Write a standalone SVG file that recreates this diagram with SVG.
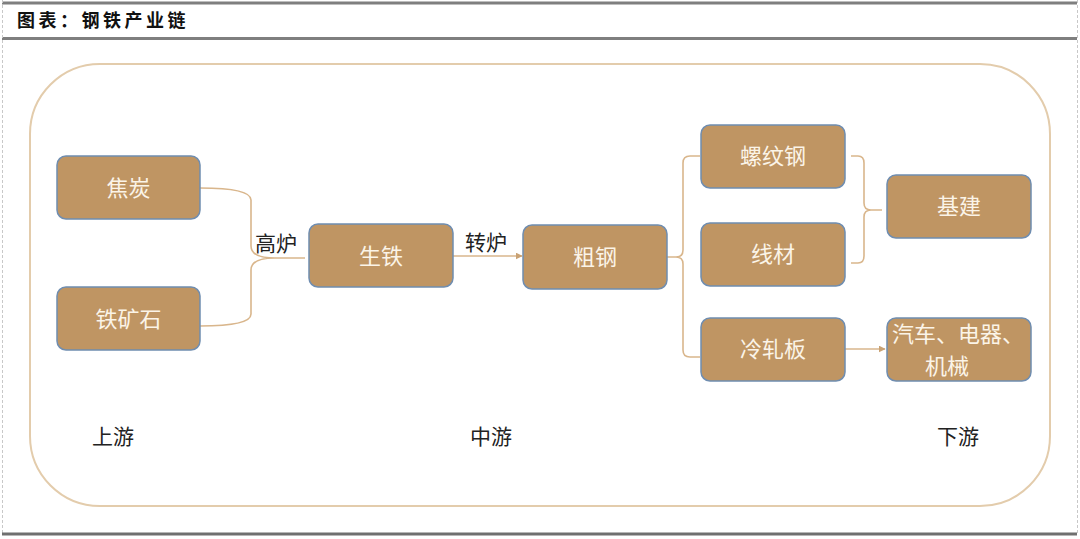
<svg xmlns="http://www.w3.org/2000/svg" width="1080" height="539" viewBox="0 0 1080 539">
<defs>
<style>
.hdr{stroke:#7f7f7f;stroke-width:3}
.vd{stroke:#c8c8c8;stroke-width:1;stroke-dasharray:3,2}
.node rect{fill:#BF9563;stroke:#6F8DB0;stroke-width:1.5}
.nt{font-family:"Noto Sans CJK SC","Noto Sans",sans-serif;font-size:22px;fill:#FBF4E8;text-anchor:middle;dominant-baseline:central}
.lbl{font-family:"Noto Sans CJK SC","Noto Sans",sans-serif;font-size:21px;fill:#222;text-anchor:middle;dominant-baseline:central}
.con{fill:none;stroke:#D9B68C;stroke-width:1.6}
</style>
<marker id="ah" viewBox="0 0 10 10" refX="9" refY="5" markerWidth="7" markerHeight="7" markerUnits="userSpaceOnUse" orient="auto">
<path d="M0,0 L10,5 L0,10 z" fill="#C9A274"/>
</marker>
</defs>
<rect width="1080" height="539" fill="#ffffff"/>
<g id="frame">
<line class="hdr" x1="2" y1="3" x2="1077" y2="3"/>
<line class="hdr" x1="2" y1="38.5" x2="1077" y2="38.5"/>
<line class="vd" x1="2.5" y1="0" x2="2.5" y2="533"/>
<line class="vd" x1="1077.5" y1="0" x2="1077.5" y2="533"/>
<line x1="2" y1="534" x2="1077" y2="534" stroke="#6f6f6f" stroke-width="3"/>
<text x="17" y="27" font-family="'Noto Sans CJK SC',sans-serif" font-size="18" font-weight="bold" fill="#111" letter-spacing="3.5">图表：钢铁产业链</text>
</g>
<rect id="outer" x="30" y="64" width="1020" height="442" rx="70" ry="70" fill="none" stroke="#E3CCAC" stroke-width="2"/>
<g id="connectors">
<path class="con" d="M200,188 Q251,188 251,200 L251,246 Q251,258 275,258 L305,258 M200,326 Q251,326 251,314 L251,270 Q251,258 275,258"/>
<line class="con" x1="453" y1="256" x2="522" y2="256" marker-end="url(#ah)"/>
<path class="con" d="M667,257 L676,257 Q683,257 683,250 L683,163 Q683,156 690,156 L700,156 M676,257 Q683,257 683,264 L683,350 Q683,357 690,357 L700,357"/>
<path class="con" d="M851,156 L858,156 Q864,156 864,163 L864,203 Q864,210 871,210 L882,210 M871,210 Q864,210 864,217 L864,256 Q864,263 858,263 L851,263"/>
<line class="con" x1="845" y1="349" x2="885" y2="349" marker-end="url(#ah)"/>
</g>
<g id="n-jiaotan" class="node"><rect x="57" y="156" width="143" height="63" rx="9"/><text class="nt" x="128.5" y="186">焦炭</text></g>
<g id="n-tiekuangshi" class="node"><rect x="57" y="287" width="143" height="63" rx="9"/><text class="nt" x="128.5" y="317">铁矿石</text></g>
<g id="n-shengtie" class="node"><rect x="309" y="224" width="144" height="63" rx="9"/><text class="nt" x="381" y="254">生铁</text></g>
<g id="n-cugang" class="node"><rect x="523" y="225" width="144" height="64" rx="9"/><text class="nt" x="595" y="255">粗钢</text></g>
<g id="n-luowengang" class="node"><rect x="701" y="125" width="144" height="63" rx="9"/><text class="nt" x="773" y="154">螺纹钢</text></g>
<g id="n-xiancai" class="node"><rect x="701" y="223" width="144" height="63" rx="9"/><text class="nt" x="773" y="252">线材</text></g>
<g id="n-lengzhaban" class="node"><rect x="701" y="318" width="144" height="63" rx="9"/><text class="nt" x="773" y="347">冷轧板</text></g>
<g id="n-jijian" class="node"><rect x="887" y="175" width="144" height="63" rx="9"/><text class="nt" x="959" y="204">基建</text></g>
<g id="n-qiche" class="node"><rect x="887" y="318" width="144" height="63" rx="9"/><text class="nt"><tspan x="958" y="332">汽车、电器、</tspan><tspan x="947" y="364">机械</tspan></text></g>
<g id="labels">
<text class="lbl" x="276" y="242">高炉</text>
<text class="lbl" x="486" y="241">转炉</text>
<text class="lbl" x="113" y="435">上游</text>
<text class="lbl" x="491" y="435">中游</text>
<text class="lbl" x="958" y="435">下游</text>
</g>
</svg>
